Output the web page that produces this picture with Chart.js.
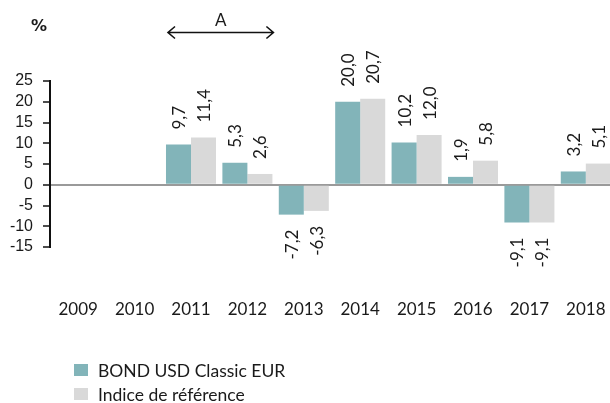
<!DOCTYPE html>
<html>
<head>
<meta charset="utf-8">
<script src="https://cdn.jsdelivr.net/npm/chart.js@4.4.1/dist/chart.umd.min.js"></script>
<style>
  html, body { margin: 0; padding: 0; background: #fff; overflow: hidden; }
  #wrap { position: relative; width: 616px; height: 403px; }
</style>
</head>
<body>
<div id="wrap"><canvas id="chart" width="616" height="403"></canvas></div>
<script>
// données
const years = ['2009', '2010', '2011', '2012', '2013', '2014', '2015', '2016', '2017', '2018'];
const fundValues = [null, null, 9.7, 5.3, -7.2, 20.0, 10.2, 1.9, -9.1, 3.2];
const indexValues = [null, null, 11.4, 2.6, -6.3, 20.7, 12.0, 5.8, -9.1, 5.1];
const seriesNames = ['BOND USD Classic EUR', 'Indice de référence'];
const seriesColors = ['#82b4b9', '#d9d9d9'];
const yTicks = [25, 20, 15, 10, 5, 0, -5, -10, -15];

const TXT = '#1a1a1a';
const LATO = 'Lato, "Noto Sans", sans-serif';

const fmt = v => v.toFixed(1).replace('.', ',');

// étiquettes verticales au-dessus / en dessous des barres
const barLabels = {
    id: 'barLabels',
    afterDatasetsDraw(chart) {
        const ctx = chart.ctx;
        ctx.save();
        ctx.font = '17px ' + LATO;
        ctx.fillStyle = TXT;
        ctx.textBaseline = 'middle';
        chart.data.datasets.forEach((ds, i) => {
            chart.getDatasetMeta(i).data.forEach((bar, j) => {
                const v = ds.data[j];
                if (v === null) return;
                ctx.save();
                if (v >= 0) {
                    ctx.translate(bar.x, bar.y - 15);
                    ctx.rotate(-Math.PI / 2);
                    ctx.textAlign = 'left';
                } else {
                    ctx.translate(bar.x, bar.y + 15);
                    ctx.rotate(-Math.PI / 2);
                    ctx.textAlign = 'right';
                }
                ctx.fillText(fmt(v), 0, 1);
                ctx.restore();
            });
        });
        ctx.restore();
    }
};

// "%", flèche "A" et légende
const extras = {
    id: 'extras',
    afterDraw(chart) {
        const ctx = chart.ctx;
        const x = chart.scales.x;
        ctx.save();
        ctx.fillStyle = TXT;
        ctx.font = 'bold 16px "DejaVu Sans", sans-serif';
        ctx.textAlign = 'center';
        ctx.textBaseline = 'middle';
        ctx.fillText('%', 39, 27);

        // flèche sur 2011-2012
        const x0 = x.getPixelForValue(2) - 23;
        const x1 = x.getPixelForValue(3) + 26;
        const y = 32.5;
        ctx.strokeStyle = '#111';
        ctx.lineWidth = 1.6;
        ctx.beginPath();
        ctx.moveTo(x0, y); ctx.lineTo(x1, y);
        ctx.moveTo(x0 + 7, y - 6); ctx.lineTo(x0, y); ctx.lineTo(x0 + 7, y + 6);
        ctx.moveTo(x1 - 7, y - 6); ctx.lineTo(x1, y); ctx.lineTo(x1 - 7, y + 6);
        ctx.stroke();
        ctx.font = '17px ' + LATO;
        ctx.fillText('A', (x0 + x1) / 2, 21);

        // légende
        ctx.textAlign = 'left';
        ctx.font = '17.5px ' + LATO;
        seriesNames.forEach((name, i) => {
            const ly = 370 + i * 24;
            ctx.fillStyle = seriesColors[i];
            ctx.fillRect(74, ly - 6, 14, 12);
            ctx.fillStyle = TXT;
            ctx.fillText(name, 98, ly + 1);
        });
        ctx.restore();
    }
};

new Chart(document.getElementById('chart'), {
    type: 'bar',
    data: {
        labels: years,
        datasets: seriesNames.map((name, i) => ({
            label: name,
            data: i === 0 ? fundValues : indexValues,
            backgroundColor: seriesColors[i],
            borderWidth: 0,
            categoryPercentage: 0.887,
            barPercentage: 1
        }))
    },
    options: {
        responsive: false,
        animation: false,
        devicePixelRatio: 1,
        layout: { padding: { top: 81, right: 2, bottom: 0, left: 0 } },
        plugins: {
            legend: { display: false },
            tooltip: { enabled: false }
        },
        scales: {
            x: {
                // les "ticks" invisibles servent à descendre les années
                grid: {
                    display: true,
                    drawOnChartArea: false,
                    drawTicks: true,
                    tickLength: 50,
                    color: 'rgba(0,0,0,0)'
                },
                border: { display: false },
                ticks: {
                    color: TXT,
                    font: { family: LATO, size: 17 },
                    padding: 2,
                    maxRotation: 0,
                    autoSkip: false
                },
                afterFit(scale) { scale.height = 156; }
            },
            y: {
                min: -15,
                max: 25,
                afterBuildTicks(scale) { scale.ticks = yTicks.map(v => ({ value: v })); },
                grid: {
                    drawOnChartArea: true,
                    color: ctx => ctx.tick && ctx.tick.value === 0 ? '#9a9a9a' : 'rgba(0,0,0,0)',
                    lineWidth: 2,
                    tickColor: '#111',
                    tickLength: 7,
                    tickWidth: 1.5
                },
                border: { display: true, color: '#111', width: 2 },
                ticks: {
                    color: TXT,
                    font: { family: '"Liberation Sans", Arial, sans-serif', size: 16 },
                    padding: 10,
                    autoSkip: false
                },
                afterFit(scale) { scale.width = 50; }
            }
        }
    },
    plugins: [barLabels, extras]
});
</script>
</body>
</html>
